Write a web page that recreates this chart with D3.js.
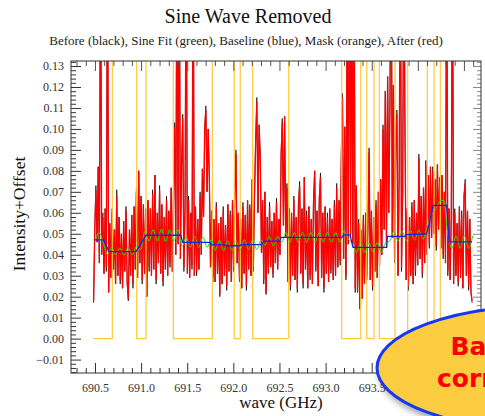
<!DOCTYPE html>
<html>
<head>
<meta charset="utf-8">
<script src="https://cdn.jsdelivr.net/npm/d3@7"></script>
<style>
  body { margin: 0; background: #fff; }
  svg { display: block; }
</style>
</head>
<body>
<svg id="chart" width="485" height="416"></svg>
<script>
// Channel grid of the spectrum (GHz)
const chanStart = 690.485;
const chanWidth = 0.01255;

// Spectrum after sine removal (red)
const afterValues = [
  0.018, 0.052, 0.071, 0.046, 0.082, 0.036, 0.200, 0.040, 0.058, 0.031,
  0.062, 0.034, 0.200, 0.022, 0.055, 0.029, 0.060, 0.033, 0.052, 0.026,
  0.068, 0.030, 0.058, 0.028, 0.050, 0.024, 0.056, 0.032, 0.061, 0.027,
  0.019, 0.052, 0.030, 0.059, 0.026, 0.063, 0.033, 0.070, 0.029, 0.080,
  0.036, 0.068, 0.028, 0.064, 0.031, 0.060, 0.020, 0.066, 0.034, 0.062,
  0.030, 0.069, 0.033, 0.078, 0.028, 0.060, 0.036, 0.071, 0.031, 0.064,
  0.027, 0.058, 0.033, 0.066, 0.030, 0.061, 0.036, 0.072, 0.032, 0.067,
  0.101, 0.040, 0.200, 0.045, 0.200, 0.038, 0.083, 0.105, 0.034, 0.062,
  0.200, 0.031, 0.066, 0.029, 0.060, 0.035, 0.200, 0.030, 0.063, 0.032,
  0.057, 0.033, 0.068, 0.040, 0.081, 0.058, 0.101, 0.109, 0.070, 0.100,
  0.075, 0.034, 0.061, 0.029, 0.057, 0.027, 0.063, 0.031, 0.055, 0.021,
  0.058, 0.026, 0.061, 0.030, 0.054, 0.025, 0.064, 0.032, 0.059, 0.027,
  0.066, 0.034, 0.070, 0.088, 0.036, 0.060, 0.029, 0.057, 0.024, 0.063,
  0.031, 0.059, 0.025, 0.066, 0.033, 0.062, 0.030, 0.076, 0.034, 0.068,
  0.094, 0.113, 0.060, 0.102, 0.085, 0.041, 0.066, 0.028, 0.070, 0.022,
  0.058, 0.031, 0.063, 0.034, 0.056, 0.031, 0.060, 0.036, 0.065, 0.033,
  0.057, 0.040, 0.088, 0.103, 0.054, 0.106, 0.048, 0.072, 0.027, 0.062,
  0.025, 0.060, 0.030, 0.066, 0.028, 0.058, 0.024, 0.064, 0.073, 0.031,
  0.062, 0.026, 0.077, 0.033, 0.059, 0.024, 0.063, 0.030, 0.057, 0.026,
  0.065, 0.080, 0.034, 0.061, 0.025, 0.067, 0.077, 0.029, 0.060, 0.024,
  0.063, 0.031, 0.058, 0.027, 0.062, 0.033, 0.057, 0.028, 0.064, 0.030,
  0.072, 0.034, 0.066, 0.037, 0.087, 0.115, 0.038, 0.101, 0.030, 0.160,
  0.045, 0.210, 0.050, 0.180, 0.045, 0.200, 0.024, 0.073, 0.022, 0.055,
  0.015, 0.052, 0.019, 0.057, 0.026, 0.060, 0.030, 0.054, 0.089, 0.028,
  0.061, 0.025, 0.058, 0.032, 0.064, 0.029, 0.070, 0.035, 0.076, 0.040,
  0.100, 0.052, 0.118, 0.046, 0.125, 0.060, 0.110, 0.220, 0.048, 0.121,
  0.038, 0.094, 0.107, 0.030, 0.080, 0.200, 0.034, 0.070, 0.200, 0.097,
  0.028, 0.062, 0.025, 0.058, 0.030, 0.063, 0.026, 0.066, 0.032, 0.060,
  0.035, 0.086, 0.038, 0.068, 0.031, 0.072, 0.036, 0.083, 0.040, 0.078,
  0.045, 0.082, 0.048, 0.080, 0.050, 0.076, 0.044, 0.083, 0.052, 0.075,
  0.043, 0.078, 0.040, 0.070, 0.036, 0.200, 0.032, 0.062, 0.028, 0.058,
  0.200, 0.026, 0.060, 0.030, 0.055, 0.027, 0.063, 0.029, 0.059, 0.024,
  0.068, 0.074, 0.030, 0.061, 0.025, 0.057, 0.022, 0.018
];

// Spectrum before sine removal (black)
const beforeValues = [
  0.017, 0.052, 0.073, 0.046, 0.082, 0.036, 0.200, 0.040, 0.060, 0.031,
  0.062, 0.032, 0.200, 0.022, 0.055, 0.029, 0.062, 0.033, 0.052, 0.026,
  0.071, 0.030, 0.058, 0.026, 0.050, 0.024, 0.056, 0.032, 0.063, 0.027,
  0.018, 0.052, 0.030, 0.059, 0.024, 0.063, 0.033, 0.072, 0.029, 0.080,
  0.036, 0.068, 0.026, 0.064, 0.031, 0.062, 0.020, 0.066, 0.032, 0.062,
  0.030, 0.071, 0.033, 0.078, 0.026, 0.060, 0.036, 0.073, 0.031, 0.064,
  0.025, 0.058, 0.033, 0.068, 0.030, 0.061, 0.034, 0.072, 0.032, 0.069,
  0.103, 0.040, 0.200, 0.045, 0.200, 0.038, 0.083, 0.107, 0.032, 0.062,
  0.200, 0.031, 0.068, 0.029, 0.060, 0.033, 0.200, 0.030, 0.063, 0.030,
  0.057, 0.033, 0.070, 0.040, 0.081, 0.058, 0.101, 0.111, 0.070, 0.100,
  0.077, 0.034, 0.061, 0.027, 0.057, 0.027, 0.065, 0.031, 0.055, 0.020,
  0.058, 0.026, 0.063, 0.030, 0.054, 0.023, 0.064, 0.032, 0.061, 0.027,
  0.066, 0.032, 0.070, 0.090, 0.036, 0.060, 0.027, 0.057, 0.024, 0.065,
  0.031, 0.059, 0.023, 0.066, 0.033, 0.064, 0.030, 0.076, 0.032, 0.068,
  0.094, 0.115, 0.060, 0.102, 0.087, 0.041, 0.066, 0.026, 0.070, 0.021,
  0.058, 0.031, 0.065, 0.034, 0.056, 0.029, 0.060, 0.036, 0.067, 0.033,
  0.057, 0.040, 0.088, 0.105, 0.054, 0.106, 0.048, 0.074, 0.027, 0.062,
  0.023, 0.060, 0.030, 0.068, 0.028, 0.058, 0.022, 0.064, 0.075, 0.031,
  0.062, 0.024, 0.077, 0.033, 0.061, 0.024, 0.063, 0.028, 0.057, 0.026,
  0.067, 0.080, 0.032, 0.061, 0.025, 0.067, 0.079, 0.029, 0.060, 0.022,
  0.063, 0.031, 0.060, 0.027, 0.062, 0.031, 0.057, 0.028, 0.066, 0.030,
  0.074, 0.034, 0.066, 0.035, 0.087, 0.117, 0.038, 0.101, 0.028, 0.160,
  0.045, 0.210, 0.048, 0.180, 0.045, 0.200, 0.022, 0.073, 0.022, 0.057,
  0.014, 0.052, 0.019, 0.059, 0.026, 0.060, 0.028, 0.054, 0.091, 0.028,
  0.061, 0.023, 0.058, 0.032, 0.066, 0.029, 0.070, 0.033, 0.076, 0.040,
  0.102, 0.052, 0.118, 0.044, 0.125, 0.060, 0.112, 0.220, 0.048, 0.121,
  0.036, 0.094, 0.109, 0.030, 0.080, 0.200, 0.032, 0.070, 0.200, 0.099,
  0.028, 0.062, 0.023, 0.058, 0.030, 0.065, 0.026, 0.066, 0.030, 0.060,
  0.035, 0.088, 0.038, 0.068, 0.029, 0.072, 0.036, 0.085, 0.040, 0.078,
  0.043, 0.082, 0.048, 0.082, 0.050, 0.076, 0.042, 0.083, 0.052, 0.077,
  0.043, 0.078, 0.038, 0.070, 0.036, 0.200, 0.030, 0.062, 0.028, 0.060,
  0.200, 0.026, 0.062, 0.030, 0.055, 0.025, 0.063, 0.029, 0.061, 0.024,
  0.068, 0.076, 0.030, 0.061, 0.023, 0.057, 0.022, 0.017
];

// Fitted sine (green), sampled at its extrema every half period
const sineStart = 690.5;
const sineStep = 0.045;
const sineFitValues = [
  0.0465, 0.0505, 0.0455, 0.0400, 0.0435, 0.0400, 0.0432, 0.0398, 0.0435, 0.0400,
  0.0440, 0.0425, 0.0510, 0.0465, 0.0520, 0.0465, 0.0522, 0.0463, 0.0520, 0.0465,
  0.0520, 0.0440, 0.0485, 0.0435, 0.0487, 0.0433, 0.0485, 0.0435, 0.0472, 0.0422,
  0.0470, 0.0420, 0.0466, 0.0420, 0.0466, 0.0425, 0.0472, 0.0424, 0.0472, 0.0424,
  0.0470, 0.0445, 0.0488, 0.0442, 0.0488, 0.0460, 0.0506, 0.0460, 0.0506, 0.0460,
  0.0507, 0.0459, 0.0507, 0.0459, 0.0506, 0.0460, 0.0506, 0.0460, 0.0506, 0.0460,
  0.0515, 0.0475, 0.0455, 0.0410, 0.0458, 0.0410, 0.0458, 0.0412, 0.0458, 0.0412,
  0.0458, 0.0465, 0.0512, 0.0465, 0.0512, 0.0467, 0.0515, 0.0470, 0.0518, 0.0475,
  0.0525, 0.0590, 0.0610, 0.0655, 0.0660, 0.0500, 0.0430, 0.0490, 0.0430, 0.0492,
  0.0430, 0.0490
];

// Baseline (blue)
const baselineFreq = [
  690.486, 690.594, 690.652, 690.945, 691.053, 691.432, 691.449, 691.747, 691.758, 691.910,
  691.920, 692.072, 692.083, 692.307, 692.332, 692.506, 692.517, 693.175, 693.200, 693.265,
  693.297, 693.663, 693.669, 693.861, 693.872, 694.096, 694.168, 694.313, 694.338, 694.588
];
const baselineValues = [
  0.0471, 0.0471, 0.0415, 0.0415, 0.0493, 0.0493, 0.0459, 0.0459, 0.0447, 0.0447,
  0.0443, 0.0443, 0.0448, 0.0448, 0.0465, 0.0465, 0.0483, 0.0483, 0.0495, 0.0495,
  0.0435, 0.0435, 0.0488, 0.0488, 0.0496, 0.0500, 0.0635, 0.0635, 0.0461, 0.0461
];

// Channel mask (orange): value holds from each edge to the next
const maskFreq = [
  690.482, 690.688, 690.952, 691.053, 691.349, 691.772, 692.010, 692.075, 692.210, 692.600,
  693.175, 693.381, 693.446, 693.525, 693.583, 693.753, 693.890, 694.103, 694.176, 694.244,
  694.588
];
const maskValues = [
  0, 1, 0, 1, 0, 1, 0, 1, 0, 1,
  0, 1, 0, 1, 0, 1, 0, 1, 0, 1,
  1
];

// Axis ticks
const xTickValues = [690.5, 691.0, 691.5, 692.0, 692.5, 693.0, 693.5, 694.0, 694.5];
const yTickValues = [-0.01, 0.00, 0.01, 0.02, 0.03, 0.04, 0.05, 0.06, 0.07, 0.08, 0.09, 0.10, 0.11, 0.12, 0.13];

const titleText = "Sine Wave Removed";
const subtitleText = "Before (black), Sine Fit (green), Baseline (blue), Mask (orange), After (red)";
const xLabelText = "wave (GHz)";
const yLabelText = "Intensity+Offset";
const calloutLines = ["Baseline", "corrected"];

// ---------------------------------------------------------------
const svg = d3.select("#chart");
const serif = "'Liberation Serif', 'DejaVu Serif', 'Times New Roman', serif";

const plot = { left: 71, right: 481, top: 61, bottom: 373 };

const x = d3.scaleLinear().domain([690.24, 694.685]).range([plot.left, plot.right]);
const y = d3.scaleLinear().domain([-0.0164, 0.1324]).range([plot.bottom, plot.top]);

const chanFreq = afterValues.map((_, i) => chanStart + i * chanWidth);
const afterData = afterValues.map((v, i) => [chanFreq[i], v]);
const beforeData = beforeValues.map((v, i) => [chanFreq[i], v]);
const sineData = sineFitValues.map((v, k) => [sineStart + k * sineStep, v]);
const baselineData = baselineFreq.map((f, i) => [f, baselineValues[i]]);
const maskData = maskFreq.map((f, i) => [f, maskValues[i]]);

const defs = svg.append("defs");
defs.append("clipPath").attr("id", "plot-clip")
  .append("rect")
  .attr("x", plot.left).attr("y", plot.top)
  .attr("width", plot.right - plot.left).attr("height", plot.bottom - plot.top);

const shadow = defs.append("filter").attr("id", "callout-shadow")
  .attr("x", "-20%").attr("y", "-20%").attr("width", "140%").attr("height", "150%");
shadow.append("feDropShadow")
  .attr("dx", 3).attr("dy", 5).attr("stdDeviation", 3)
  .attr("flood-color", "#000").attr("flood-opacity", 0.35);

// Titles
svg.append("text")
  .attr("x", 248).attr("y", 23)
  .attr("text-anchor", "middle")
  .style("font-family", serif).style("font-size", "20px").attr("fill", "#111")
  .text(titleText);

svg.append("text")
  .attr("x", 246).attr("y", 45)
  .attr("text-anchor", "middle")
  .style("font-family", serif).style("font-size", "13px").attr("fill", "#222")
  .text(subtitleText);

// Data layers
const line = d3.line().x(d => x(d[0])).y(d => y(d[1]));
const layer = svg.append("g").attr("clip-path", "url(#plot-clip)");

layer.append("path").datum(beforeData)
  .attr("d", line).attr("fill", "none")
  .attr("stroke", "#000").attr("stroke-width", 0.7);

layer.append("path").datum(afterData)
  .attr("d", line).attr("fill", "none")
  .attr("stroke", "#ff0000").attr("stroke-width", 1.3);

layer.append("path").datum(maskData)
  .attr("d", d3.line().curve(d3.curveStepAfter).x(d => x(d[0])).y(d => y(d[1])))
  .attr("fill", "none")
  .attr("stroke", "#ffc93a").attr("stroke-width", 1.2);

layer.append("path").datum(sineData)
  .attr("d", d3.line().curve(d3.curveMonotoneX).x(d => x(d[0])).y(d => y(d[1])))
  .attr("fill", "none")
  .attr("stroke", "#22e800").attr("stroke-width", 1);

layer.append("path").datum(baselineData)
  .attr("d", line).attr("fill", "none")
  .attr("stroke", "#1a22e8").attr("stroke-width", 1.3);

// Axes
const axisColor = "#333";
const xMinor = d3.range(690.3, 694.65, 0.1).filter(v => Math.abs(v * 2 - Math.round(v * 2)) > 1e-6);
const yMinor = d3.range(-0.016, 0.1325, 0.002).filter(v => Math.abs(v * 100 - Math.round(v * 100)) > 1e-6);

function styleAxis(g, color) {
  g.select(".domain").remove();
  g.selectAll("line").attr("stroke", color);
  g.selectAll("text")
    .style("font-family", serif).style("font-size", "12px").attr("fill", "#333");
}

// bottom
svg.append("g").attr("transform", `translate(0,${plot.bottom})`)
  .call(d3.axisBottom(x).tickValues(xTickValues).tickFormat(d3.format(".1f"))
    .tickSizeInner(-10).tickSizeOuter(0).tickPadding(10))
  .call(g => styleAxis(g, axisColor));
svg.append("g").attr("transform", `translate(0,${plot.bottom})`)
  .call(d3.axisBottom(x).tickValues(xMinor).tickFormat("").tickSizeInner(-5).tickSizeOuter(0))
  .call(g => styleAxis(g, axisColor));

// top
svg.append("g").attr("transform", `translate(0,${plot.top})`)
  .call(d3.axisTop(x).tickValues(xTickValues).tickFormat("").tickSizeInner(-10).tickSizeOuter(0))
  .call(g => styleAxis(g, "#555"));
svg.append("g").attr("transform", `translate(0,${plot.top})`)
  .call(d3.axisTop(x).tickValues(xMinor).tickFormat("").tickSizeInner(-5).tickSizeOuter(0))
  .call(g => styleAxis(g, "#555"));

// left
svg.append("g").attr("transform", `translate(${plot.left},0)`)
  .call(d3.axisLeft(y).tickValues(yTickValues).tickFormat(d3.format(".2f"))
    .tickSizeInner(-10).tickSizeOuter(0).tickPadding(7))
  .call(g => styleAxis(g, axisColor));
svg.append("g").attr("transform", `translate(${plot.left},0)`)
  .call(d3.axisLeft(y).tickValues(yMinor).tickFormat("").tickSizeInner(-5).tickSizeOuter(0))
  .call(g => styleAxis(g, axisColor));

// right
svg.append("g").attr("transform", `translate(${plot.right},0)`)
  .call(d3.axisRight(y).tickValues(yTickValues).tickFormat("").tickSizeInner(-8).tickSizeOuter(0))
  .call(g => styleAxis(g, "#888"));
svg.append("g").attr("transform", `translate(${plot.right},0)`)
  .call(d3.axisRight(y).tickValues(yMinor).tickFormat("").tickSizeInner(-4).tickSizeOuter(0))
  .call(g => styleAxis(g, "#888"));

// frame
svg.append("rect")
  .attr("x", plot.left).attr("y", plot.top)
  .attr("width", plot.right - plot.left).attr("height", plot.bottom - plot.top)
  .attr("fill", "none").attr("stroke", axisColor).attr("stroke-width", 1);

// Axis titles
svg.append("text")
  .attr("x", 281).attr("y", 408)
  .attr("text-anchor", "middle")
  .style("font-family", serif).style("font-size", "17px").attr("fill", "#111")
  .text(xLabelText);

svg.append("text")
  .attr("transform", "translate(25,214) rotate(-90)")
  .attr("text-anchor", "middle")
  .style("font-family", serif).style("font-size", "17.5px").attr("fill", "#111")
  .text(yLabelText);

// Callout balloon
const callout = svg.append("g");
callout.append("ellipse")
  .attr("cx", 545).attr("cy", 368).attr("rx", 168).attr("ry", 62)
  .attr("fill", "#fccd3f").attr("stroke", "#1538f0").attr("stroke-width", 3)
  .attr("filter", "url(#callout-shadow)");
callout.append("text")
  .attr("x", 450.5).attr("y", 355)
  .style("font-family", "'DejaVu Sans', Verdana, sans-serif")
  .style("font-size", "25px").style("font-weight", "bold").attr("fill", "#ff0000")
  .text(calloutLines[0]);
callout.append("text")
  .attr("x", 437).attr("y", 387)
  .style("font-family", "'DejaVu Sans', Verdana, sans-serif")
  .style("font-size", "25px").style("font-weight", "bold").attr("fill", "#ff0000")
  .text(calloutLines[1]);
</script>
</body>
</html>
